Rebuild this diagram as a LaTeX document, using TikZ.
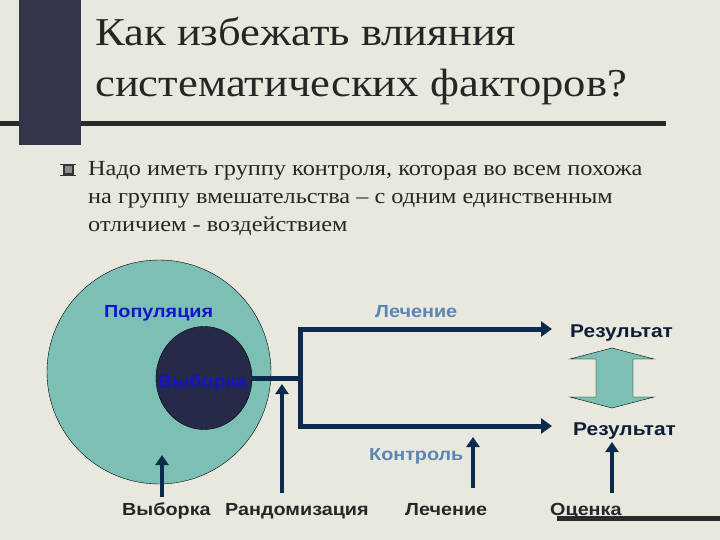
\documentclass[tikz,border=0pt]{standalone}
\usepackage{fontspec}
\setmainfont[FakeStretch=1.13]{Liberation Serif}
\setsansfont[FakeStretch=1.13]{Liberation Sans}
\usetikzlibrary{arrows.meta,positioning,shapes.geometric}
\definecolor{slidebg}{HTML}{E8E8DE}
\definecolor{slatebar}{HTML}{33364B}
\definecolor{rulecol}{HTML}{2A2A2A}
\definecolor{popteal}{HTML}{7CBFB4}
\definecolor{smpnavy}{HTML}{262A48}
\definecolor{linknavy}{HTML}{0B2A4E}
\definecolor{popblue}{HTML}{1414C8}
\definecolor{armblue}{HTML}{5A86B5}
\definecolor{resnavy}{HTML}{0E1E38}
\tikzset{
  title/.style={anchor=base west, inner sep=0pt, font=\fontsize{39.5}{39.5}\selectfont, text=black!85},
  bodytext/.style={anchor=base west, inner sep=0pt, font=\fontsize{21.5}{21.5}\selectfont, text=black!85},
  lbl/.style={anchor=base west, inner sep=0pt, font=\sffamily\bfseries\fontsize{17.5}{17.5}\selectfont},
  link/.style={draw=linknavy, line width=5pt},
  flow/.style={link, -{Triangle[length=11pt,width=15pt]}},
  uparrow/.style={link, line width=4pt, -{Triangle[length=10pt,width=13pt]}},
}
\begin{document}
\begin{tikzpicture}[x=1pt, y=-1pt]
	\useasboundingbox (0,0) rectangle (720,540);
	\fill[slidebg] (0,0) rectangle (720,540);
	% slide decoration
	\fill[rulecol] (0,121) rectangle (666,126);
	\fill[slatebar] (19,0) rectangle (81,145);
	\fill[rulecol] (557,516) rectangle (720,521);
	% title and text
	\node (title1) [title] at (95,46) {Как избежать влияния};
	\node (title2) [title] at (95,97) {систематических факторов?};
	\node (bullet) [draw=black!80, line width=2pt, fill=black!45, minimum size=9pt, inner sep=0pt] at (68,170) {};
	\draw[black!80, line width=1.3pt] ([xshift=-2.5pt]bullet.north west) -- ([xshift=2.5pt]bullet.north east)
		([xshift=-2.5pt]bullet.south west) -- ([xshift=2.5pt]bullet.south east);
	\node (line1) [bodytext] at (88,176) {Надо иметь группу контроля, которая во всем похожа};
	\node (line2) [bodytext] at (88,204) {на группу вмешательства – с одним единственным};
	\node (line3) [bodytext] at (88,232) {отличием - воздействием};
	% population and sample
	\node (pop) [circle, draw=black, fill=popteal, minimum size=224pt, inner sep=0pt] at (159,372) {};
	\node (smp) [ellipse, draw=black, fill=smpnavy, minimum width=96pt, minimum height=103pt, inner sep=0pt] at (204,378) {};
	\node (poplbl) [lbl, text=popblue] at (104,317) {Популяция};
	\node (smplbl) [lbl, text=popblue] at (158,387) {Выборка};
	% arms
	\coordinate (split) at (300,378);
	\coordinate (splitT) at (300,329);
	\coordinate (splitB) at (300,426);
	\coordinate (endT) at (552,329);
	\coordinate (endB) at (552,426);
	\draw[link] (smp.east) -- (split);
	\draw[link] ([yshift=2.5pt]splitT) -- ([yshift=-2.5pt]splitB);
	\draw[flow] (splitT) -- (endT);
	\draw[flow] (splitB) -- (endB);
	\node (treat) [lbl, text=armblue] at (375,317) {Лечение};
	\node (ctrl) [lbl, text=armblue] at (369,460) {Контроль};
	\node (resT) [lbl, text=resnavy, font=\sffamily\bfseries\fontsize{18.5}{18.5}\selectfont] at (570,337) {Результат};
	\node (resB) [lbl, text=resnavy, font=\sffamily\bfseries\fontsize{18.5}{18.5}\selectfont] at (573,435) {Результат};
	% comparison
	\draw[fill=popteal, draw=black, thin] (570,359) -- (612,348) -- (654,359) -- (633,359) -- (633,397)
		-- (654,397) -- (612,408) -- (570,397) -- (596,397) -- (596,359) -- cycle;
	% steps
	\node (stSample) [lbl, text=black!85] at (122,515) {Выборка};
	\node (stRand) [lbl, text=black!85] at (225,515) {Рандомизация};
	\node (stTreat) [lbl, text=black!85] at (405,515) {Лечение};
	\node (stEval) [lbl, text=black!85] at (550,515) {Оценка};
	\coordinate (tipSample) at (162,455);
	\coordinate (tipRand) at (282,384);
	\coordinate (tipTreat) at (473,437);
	\coordinate (tipEval) at (612,442);
	\draw[uparrow] (tipSample |- stSample.base) ++(0,-18) -- (tipSample);
	\draw[uparrow] (tipRand |- stRand.base) ++(0,-22) -- (tipRand);
	\draw[uparrow] (tipTreat |- stTreat.base) ++(0,-27) -- (tipTreat);
	\draw[uparrow] (tipEval |- stEval.base) ++(0,-22) -- (tipEval);
\end{tikzpicture}
\end{document}
